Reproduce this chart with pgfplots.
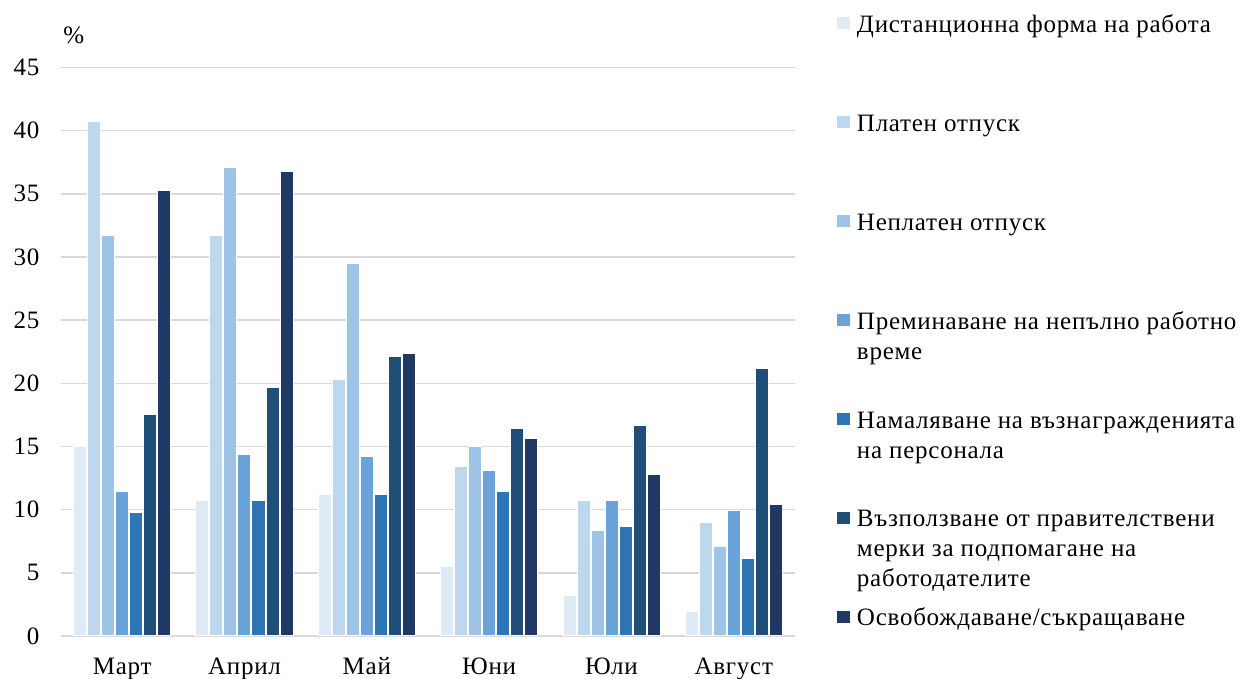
\documentclass[border=0pt]{standalone}
\usepackage{fontspec}
\setmainfont[LetterSpace=3]{Liberation Serif}
\usepackage{pgfplots}
\pgfplotsset{compat=1.18}

\definecolor{c1}{HTML}{DEEBF7}
\definecolor{c2}{HTML}{BDD7EE}
\definecolor{c3}{HTML}{9DC3E6}
\definecolor{c4}{HTML}{69A3D9}
\definecolor{c5}{HTML}{2E75B6}
\definecolor{c6}{HTML}{1F4E79}
\definecolor{c7}{HTML}{203864}
\definecolor{gridgray}{HTML}{D9D9D9}

\newcommand{\lfont}{\fontsize{12.5}{15}\selectfont}
\newcommand{\lentry}[1]{\parbox[t][49.5pt][t]{220pt}{\raggedright\strut #1}}

\begin{document}
\begin{tikzpicture}
\begin{axis}[
  scale only axis,
  width=367pt, height=284.25pt,
  clip=false,
  ybar=0.5pt, bar width=6.5pt,
  xmin=-0.5, xmax=5.5,
  ymin=0, ymax=45,
  xtick={0,...,5},
  xticklabels={Март,Април,Май,Юни,Юли,Август},
  ytick={0,5,...,45},
  major tick length=0pt,
  axis line style={draw=none},
  ymajorgrids,
  grid style={gridgray, line width=0.75pt},
  tick label style={font=\lfont},
  /pgf/number format/assume math mode=true,
  yticklabel style={xshift=-7.3pt},
  xticklabel style={yshift=-7.3pt},
  legend image code/.code={\fill[#1,draw=none] (0pt,1.5pt) rectangle (6.5pt,7.5pt);},
  legend cell align=left,
  legend style={
    at={(rel axis cs:1.0572,1.0994)}, anchor=north west,
    draw=none, fill=none, inner sep=0pt, outer sep=0pt,
    font=\lfont, row sep=0pt, column sep=3.5pt,
    cells={anchor=base west},
    nodes={inner sep=0pt, text depth=},
  },
  every axis plot/.append style={draw=white, line width=0.5pt},
]
\addplot[fill=c1] coordinates {(0,15.0) (1,10.75) (2,11.2) (3,5.5) (4,3.2) (5,1.9)};
\addlegendentry{\lentry{Дистанционна форма на работа}}
\addplot[fill=c2] coordinates {(0,40.7) (1,31.7) (2,20.3) (3,13.4) (4,10.7) (5,9.0)};
\addlegendentry{\lentry{Платен отпуск}}
\addplot[fill=c3] coordinates {(0,31.7) (1,37.1) (2,29.5) (3,15.0) (4,8.35) (5,7.1)};
\addlegendentry{\lentry{Неплатен отпуск}}
\addplot[fill=c4] coordinates {(0,11.4) (1,14.4) (2,14.2) (3,13.1) (4,10.7) (5,9.9)};
\addlegendentry{\lentry{Преминаване на непълно работно\\време}}
\addplot[fill=c5] coordinates {(0,9.8) (1,10.75) (2,11.2) (3,11.4) (4,8.7) (5,6.15)};
\addlegendentry{\lentry{Намаляване на възнагражденията\\на персонала}}
\addplot[fill=c6] coordinates {(0,17.5) (1,19.7) (2,22.1) (3,16.4) (4,16.65) (5,21.2)};
\addlegendentry{\lentry{Възползване от правителствени\\мерки за подпомагане на\\работодателите}}
\addplot[fill=c7] coordinates {(0,35.3) (1,36.8) (2,22.4) (3,15.6) (4,12.75) (5,10.4)};
\addlegendentry{\lentry{Освобождаване/съкращаване}}
\node[anchor=base west, inner sep=0pt, xshift=1pt, yshift=12.25pt, font=\lfont] at (rel axis cs:0,1) {\%};
\coordinate (ll) at (rel axis cs:0,0);
\end{axis}
\pgfresetboundingbox
\useasboundingbox (ll) ++(-30.5pt,-21.5pt) rectangle ++(622pt,339.5pt);
\end{tikzpicture}
\end{document}
